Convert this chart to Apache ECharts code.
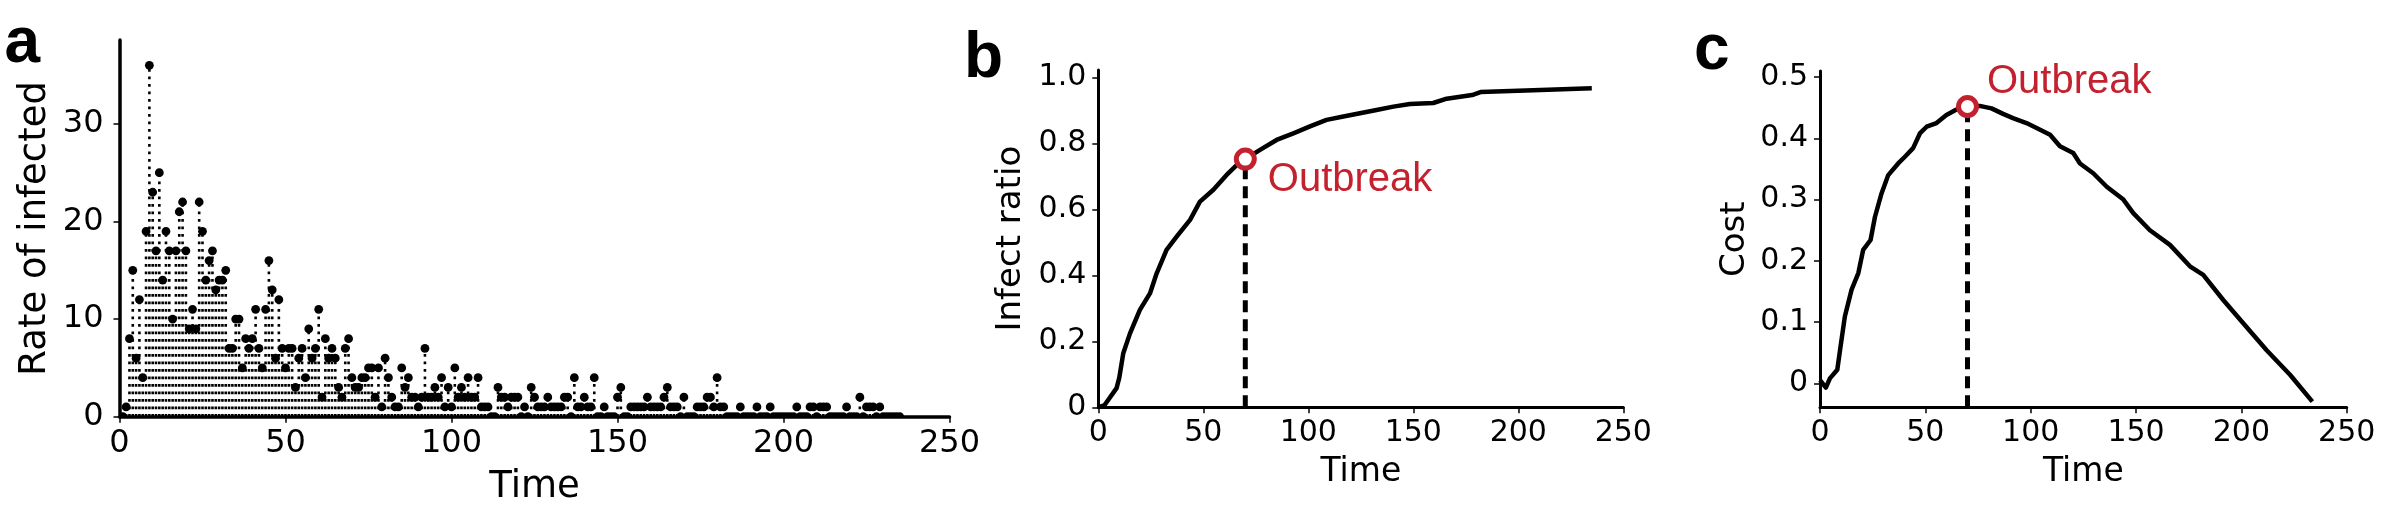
<!DOCTYPE html>
<html>
<head>
<meta charset="utf-8">
<title>Outbreak</title>
<script src="https://cdn.jsdelivr.net/npm/echarts@6.0.0/dist/echarts.min.js"></script>
<style>
  html, body { margin: 0; padding: 0; background: #fff; }
  #main { width: 2394px; height: 524px; }
</style>
</head>
<body>
<div id="main"></div>
<script>
// panel a: rate of infected, one value per time step (t = 0, 1, 2, ...)
var rateInfected = [
  0, 0, 1, 8, 15, 6, 12, 4, 19, 36,
  23, 17, 25, 14, 19, 17, 10, 17, 21, 22,
  17, 9, 11, 9, 22, 19, 14, 16, 17, 13,
  14, 14, 15, 7, 7, 10, 10, 5, 8, 7,
  8, 11, 7, 5, 11, 16, 13, 6, 12, 7,
  5, 7, 7, 3, 6, 7, 4, 9, 6, 7,
  11, 2, 8, 6, 7, 6, 3, 2, 7, 8,
  4, 3, 3, 4, 4, 5, 5, 2, 5, 1,
  6, 4, 2, 1, 1, 5, 3, 4, 2, 2,
  1, 2, 7, 2, 2, 3, 2, 4, 1, 3,
  1, 5, 2, 3, 2, 4, 2, 2, 4, 1,
  1, 1, 0, 0, 3, 2, 2, 1, 2, 2,
  2, 0, 1, 0, 3, 2, 1, 1, 1, 2,
  1, 1, 1, 1, 2, 2, 0, 4, 1, 1,
  2, 1, 1, 4, 0, 0, 1, 0, 0, 0,
  2, 3, 0, 0, 1, 1, 1, 1, 1, 2,
  1, 1, 1, 1, 2, 3, 1, 1, 1, 0,
  2, 0, 0, 0, 1, 1, 1, 2, 2, 1,
  4, 1, 1, 0, 0, 0, 0, 1, 0, 0,
  0, 0, 1, 0, 0, 0, 1, 0, 0, 0,
  0, 0, 0, 0, 1, 0, 0, 0, 1, 1,
  0, 1, 1, 1, 0, 0, 0, 0, 0, 1,
  0, 0, 0, 2, 0, 1, 1, 1, 0, 1,
  0, 0, 0, 0, 0, 0
];
var aTicksY = [0, 10, 20, 30];

// panel b: infect ratio
var bTime = [0, 3, 8.7, 10, 11.9, 15.1, 19.8, 24.6, 27.8, 32.5, 37.3, 43.7, 48.4, 54.8, 61.1, 65.9, 70,
  77, 84.9, 92.9, 100.8, 108.7, 116.7, 124.6, 132.5, 140.5, 148.4, 159.5, 165.9, 178, 182, 207.1, 235];
var bRatio = [0, 0.007, 0.058, 0.09, 0.164, 0.224, 0.295, 0.345, 0.406, 0.477, 0.517, 0.568, 0.623, 0.659, 0.704, 0.734, 0.752,
  0.78, 0.81, 0.83, 0.851, 0.871, 0.881, 0.891, 0.901, 0.911, 0.919, 0.922, 0.935, 0.946, 0.955, 0.961, 0.967];
var bTicksY = [0, 0.2, 0.4, 0.6, 0.8, 1.0];
var bTickLabels = ['0', '0.2', '0.4', '0.6', '0.8', '1.0'];

// panel c: cost
var cTime = [0, 2.8, 4.7, 8.2, 9.5, 11.8, 15, 18.2, 20.5, 24, 26.1, 29.2, 32.4, 37.1, 40.3, 44.2, 47.4, 50.6,
  55.3, 60, 64.8, 70, 75.8, 81.4, 86.9, 91.6, 98, 102.8, 109.2, 113.9, 120.2, 123.4, 129.7, 136.1, 144,
  148.7, 156.6, 166.1, 175.6, 181.9, 191.4, 200.9, 212, 223.1, 233.7];
var cCost = [0.005, -0.007, 0.008, 0.022, 0.054, 0.109, 0.153, 0.18, 0.218, 0.234, 0.272, 0.31, 0.34, 0.359, 0.37, 0.384, 0.408, 0.419,
  0.425, 0.438, 0.447, 0.452, 0.453, 0.449, 0.44, 0.433, 0.425, 0.417, 0.406, 0.387, 0.376, 0.359, 0.343, 0.321, 0.3,
  0.278, 0.25, 0.226, 0.191, 0.177, 0.136, 0.098, 0.054, 0.014, -0.03];
var cTicksY = [0, 0.1, 0.2, 0.3, 0.4, 0.5];
var cTickLabels = ['0', '0.1', '0.2', '0.3', '0.4', '0.5'];

var timeTicks = [0, 50, 100, 150, 200, 250];
var outbreakTime = 70;
var outbreakRatio = 0.752;
var outbreakCost = 0.452;

var RED = '#c4212f';
var FONT = 'DejaVu Sans';

function pairs(xs, ys) {
  var out = [];
  for (var i = 0; i < xs.length; i++) out.push([xs[i], ys[i]]);
  return out;
}
function labelFrom(vals, labels) {
  return function (v) {
    for (var i = 0; i < vals.length; i++) {
      if (Math.abs(vals[i] - v) < 1e-9) return labels[i];
    }
    return '';
  };
}

var stems = [];
for (var t = 0; t < rateInfected.length; t++) stems.push([t, rateInfected[t]]);

function xAxisFor(grid, fs, nameFs, nameGap, margin, lw) {
  return {
    type: 'value', gridIndex: grid, min: 0, max: 250, interval: 50,
    name: 'Time', nameLocation: 'middle', nameGap: nameGap, nameMoveOverlap: false,
    nameTextStyle: { fontFamily: FONT, fontSize: nameFs, color: '#000' },
    axisLine: { show: true, onZero: false, lineStyle: { color: '#000', width: lw } },
    axisTick: { show: true, length: 6, lineStyle: { color: '#000', width: 1.5 } },
    axisLabel: { fontFamily: FONT, fontSize: fs, color: '#000', margin: margin, customValues: timeTicks },
    splitLine: { show: false }
  };
}
function yAxisFor(grid, min, max, ticks, fmt, name, fs, nameFs, nameGap, margin, lw) {
  return {
    type: 'value', gridIndex: grid, min: min, max: max,
    name: name, nameLocation: 'middle', nameGap: nameGap, nameMoveOverlap: false,
    nameTextStyle: { fontFamily: FONT, fontSize: nameFs, color: '#000' },
    axisLine: { show: true, onZero: false, lineStyle: { color: '#000', width: lw } },
    axisTick: { show: true, length: 6, customValues: ticks, lineStyle: { color: '#000', width: 1.5 } },
    axisLabel: { fontFamily: FONT, fontSize: fs, color: '#000', margin: margin, customValues: ticks, formatter: fmt },
    splitLine: { show: false }
  };
}

var chart = echarts.init(document.getElementById('main'), null, { renderer: 'canvas' });
chart.setOption({
  animation: false,
  backgroundColor: '#fff',
  grid: [
    { left: 119.5, top: 40, width: 830, height: 376.7, outerBoundsMode: 'none', containLabel: false },
    { left: 1098.3, top: 70, width: 525, height: 337.3, outerBoundsMode: 'none', containLabel: false },
    { left: 1820, top: 71, width: 526.7, height: 336.3, outerBoundsMode: 'none', containLabel: false }
  ],
  xAxis: [
    xAxisFor(0, 32, 37, 52, 11, 3.5),
    xAxisFor(1, 30, 33, 49, 11, 3),
    xAxisFor(2, 30, 33, 49, 11, 3)
  ],
  yAxis: [
    yAxisFor(0, 0, 38.6, aTicksY, function (v) { return String(v); }, 'Rate of infected', 32, 37, 66, 16, 3.5),
    yAxisFor(1, 0, 1.022, bTicksY, labelFrom(bTicksY, bTickLabels), 'Infect ratio', 30, 34, 70, 12, 3),
    yAxisFor(2, -0.0392, 0.51, cTicksY, labelFrom(cTicksY, cTickLabels), 'Cost', 30, 34, 68, 12, 3)
  ],
  graphic: [
    { type: 'text', left: 4.5, top: 12, style: { text: 'a', font: 'bold 64px "Liberation Sans", Arial', fill: '#000' } },
    { type: 'text', left: 964, top: 27, style: { text: 'b', font: 'bold 64px "Liberation Sans", Arial', fill: '#000' } },
    { type: 'text', left: 1694, top: 19, style: { text: 'c', font: 'bold 64px "Liberation Sans", Arial', fill: '#000' } }
  ],
  series: [
    {
      type: 'custom', xAxisIndex: 0, yAxisIndex: 0, data: stems, clip: true, z: 2,
      renderItem: function (params, api) {
        var p0 = api.coord([api.value(0), 0]);
        var p1 = api.coord([api.value(0), api.value(1)]);
        if (api.value(1) <= 0) return null;
        return {
          type: 'line',
          shape: { x1: p0[0], y1: p0[1], x2: p1[0], y2: p1[1] },
          style: { stroke: '#000', lineWidth: 2.6, lineDash: [2.8, 4.7], lineCap: 'butt' }
        };
      }
    },
    {
      type: 'custom', xAxisIndex: 0, yAxisIndex: 0, data: stems, clip: true, z: 3,
      renderItem: function (params, api) {
        var p = api.coord([api.value(0), api.value(1)]);
        return { type: 'circle', shape: { cx: p[0], cy: p[1], r: 4.4 }, style: { fill: '#000' } };
      }
    },
    {
      type: 'line', xAxisIndex: 1, yAxisIndex: 1, data: pairs(bTime, bRatio),
      symbol: 'none', lineStyle: { color: '#000', width: 4.5, join: 'round' }, z: 3
    },
    {
      type: 'line', xAxisIndex: 1, yAxisIndex: 1, data: [[outbreakTime, 0], [outbreakTime, outbreakRatio]],
      symbol: 'none', lineStyle: { color: '#000', width: 5, type: [12, 7], cap: 'butt' }, z: 2
    },
    {
      type: 'scatter', xAxisIndex: 1, yAxisIndex: 1, data: [[outbreakTime, outbreakRatio]],
      symbol: 'circle', symbolSize: 18, z: 5,
      itemStyle: { color: '#fff', borderColor: RED, borderWidth: 5, opacity: 1 },
      label: { show: true, formatter: 'Outbreak', position: 'right', distance: 11, offset: [0, 21],
        fontFamily: '"Liberation Sans", Arial', fontSize: 40, color: RED }
    },
    {
      type: 'line', xAxisIndex: 2, yAxisIndex: 2, data: pairs(cTime, cCost),
      symbol: 'none', lineStyle: { color: '#000', width: 4.5, join: 'round' }, z: 3
    },
    {
      type: 'line', xAxisIndex: 2, yAxisIndex: 2, data: [[outbreakTime, -0.0392], [outbreakTime, outbreakCost]],
      symbol: 'none', lineStyle: { color: '#000', width: 5, type: [12, 7], cap: 'butt' }, z: 2
    },
    {
      type: 'scatter', xAxisIndex: 2, yAxisIndex: 2, data: [[outbreakTime, outbreakCost]],
      symbol: 'circle', symbolSize: 18, z: 5,
      itemStyle: { color: '#fff', borderColor: RED, borderWidth: 5, opacity: 1 },
      label: { show: true, formatter: 'Outbreak', position: 'right', distance: 8, offset: [0, -25],
        fontFamily: '"Liberation Sans", Arial', fontSize: 40, color: RED }
    }
  ]
});
</script>
</body>
</html>
